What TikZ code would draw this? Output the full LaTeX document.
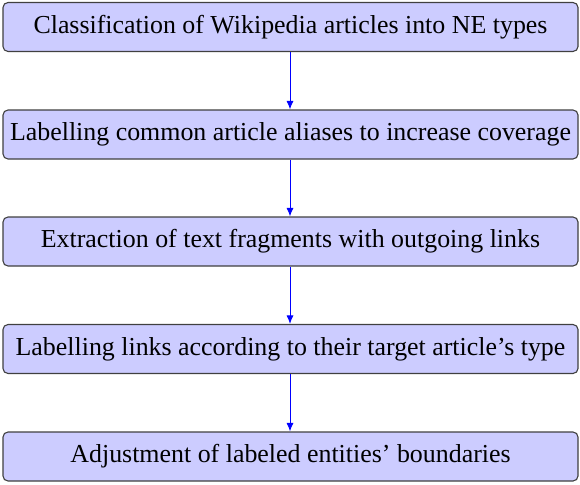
\documentclass[tikz,border=0pt]{standalone}
\usepackage{fontspec}
\setmainfont{Liberation Serif}
\usetikzlibrary{arrows.meta}
\begin{document}
\begin{tikzpicture}[x=1pt,y=-1pt,
  stepbox/.style={draw=black!75, line width=1.1pt, fill=blue!20, rounded corners=5pt,
    minimum width=575pt, minimum height=49pt, inner sep=0pt, font=\fontsize{25.9}{30}\selectfont},
  flow/.style={draw=blue, line width=0.9pt, -{Latex[length=8.5pt,width=7pt]}}]
\useasboundingbox (0,0) rectangle (580,484);
\node[stepbox] (a) at (290.5,27) {Classification of Wikipedia articles into NE types};
\node[stepbox] (b) at (290.5,134.5) {Labelling common article aliases to increase coverage};
\node[stepbox] (c) at (290.5,241.5) {Extraction of text fragments with outgoing links};
\node[stepbox] (d) at (290.5,349) {Labelling links according to their target article’s type};
\node[stepbox] (e) at (290.5,456.5) {Adjustment of labeled entities’ boundaries};
\draw[flow] (a.south -| 290,0) -- (b.north -| 290,0);
\draw[flow] (b.south -| 290,0) -- (c.north -| 290,0);
\draw[flow] (c.south -| 290,0) -- (d.north -| 290,0);
\draw[flow] (d.south -| 290,0) -- (e.north -| 290,0);
\end{tikzpicture}
\end{document}
